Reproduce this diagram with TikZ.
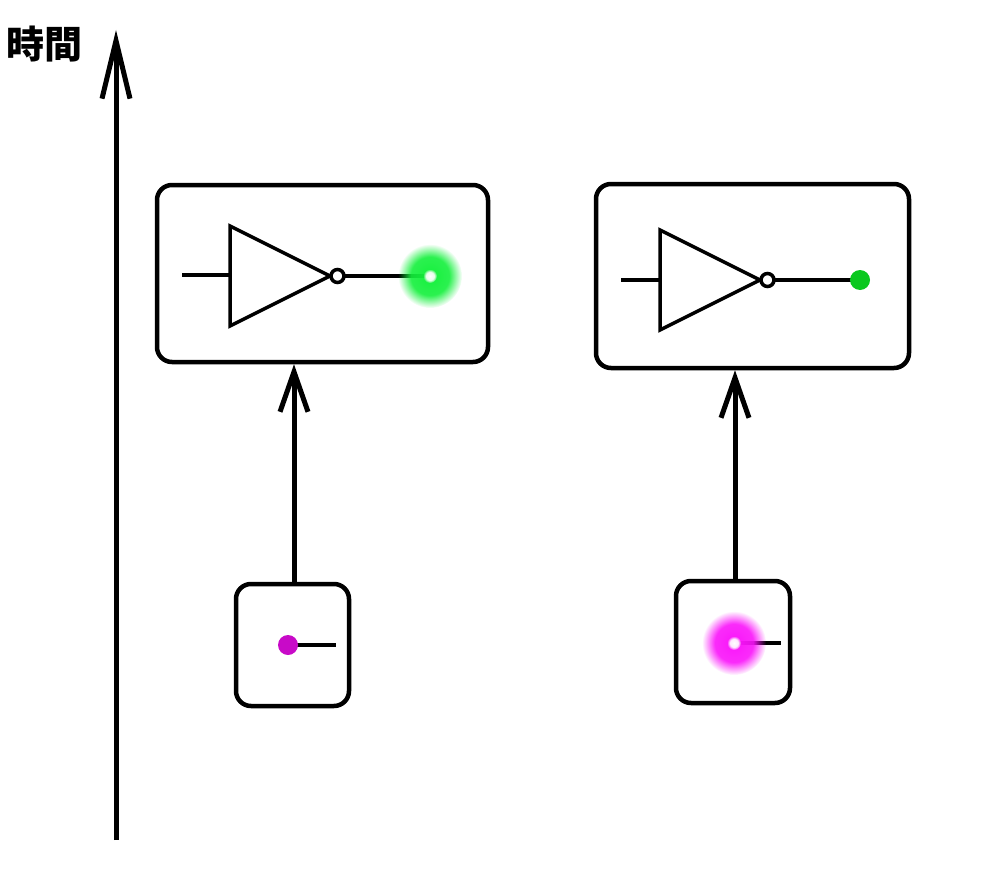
\documentclass[tikz,border=0pt]{standalone}
\usepackage{fontspec}
\newfontfamily\cjk{Noto Sans CJK JP}
\usepackage{tikz}
\usetikzlibrary{arrows.meta, fadings, calc}
\definecolor{glowgreen}{RGB}{20,240,60}
\definecolor{dotgreen}{RGB}{10,200,30}
\definecolor{glowmagenta}{RGB}{250,20,250}
\definecolor{dotmagenta}{RGB}{200,10,200}

\pgfdeclareradialshading{glowmask}{\pgfpointorigin}{color(0bp)=(pgftransparent!0); color(15bp)=(pgftransparent!10); color(25bp)=(pgftransparent!100); color(50bp)=(pgftransparent!100)}
\pgfdeclarefading{glowfade}{\pgfuseshading{glowmask}}

\tikzset{
  panel/.style={draw, line width=4.5pt, rounded corners=15pt, inner sep=0pt},
  gate/.style={line width=3.5pt, line join=miter},
  timearrow/.style={line width=5pt, -{Straight Barb[length=40pt, width=28pt, line width=5pt]}},
}

\begin{document}
\begin{tikzpicture}[x=1pt, y=-1pt]
    \useasboundingbox (0,0) rectangle (990,880);

    % time axis
    \coordinate (t0) at (116,840);
    \coordinate (t1) at (116,30);
    \draw[line width=5pt, -{Straight Barb[length=58pt, width=28pt, line width=5pt]}] (t0) -- (t1);
    \node[anchor=north west, inner sep=0pt] (zeit) at (6,26) {\cjk\bfseries\fontsize{38}{42}\selectfont 時間};

    % panels
    \node[panel, minimum width=331pt, minimum height=177pt] (gateA) at (322.5,273.5) {};
    \node[panel, minimum width=313pt, minimum height=184pt] (gateB) at (752.5,276) {};
    \node[panel, minimum width=113pt, minimum height=122pt] (inA) at (292.5,645) {};
    \node[panel, minimum width=114pt, minimum height=122pt] (inB) at (733,642) {};

    % inverter A, output glowing
    \draw[gate] (182,275) -- (230,275);
    \draw[gate] (230,226) -- (330,276) -- (230,326) -- cycle;
    \draw[gate] (344,276) -- (430,276);
    \draw[gate, fill=white] (337.5,276) circle (6.5);
    \fill[glowgreen, path fading=glowfade] (430,276) circle (32);
    \fill[white, path fading=glowfade] (430,276) circle (7);

    % inverter B, output solid
    \draw[gate] (621,280) -- (660,280);
    \draw[gate] (660,230) -- (760,280) -- (660,330) -- cycle;
    \draw[gate] (774,280) -- (860,280);
    \draw[gate, fill=white] (767.5,280) circle (6.5);
    \fill[dotgreen] (860,280) circle (10);

    % inputs
    \draw[gate] (288,645) -- (336,645);
    \fill[dotmagenta] (288,645) circle (10);
    \draw[gate] (734,643) -- (781,643);
    \fill[glowmagenta, path fading=glowfade] (734,643) circle (32);
    \fill[white, path fading=glowfade] (734,643) circle (7);

    % signal flow
    \draw[timearrow] (inA.north -| 294,0) -- (gateA.south -| 294,0);
    \draw[timearrow] (inB.north -| 735,0) -- (gateB.south -| 735,0);
\end{tikzpicture}
\end{document}
